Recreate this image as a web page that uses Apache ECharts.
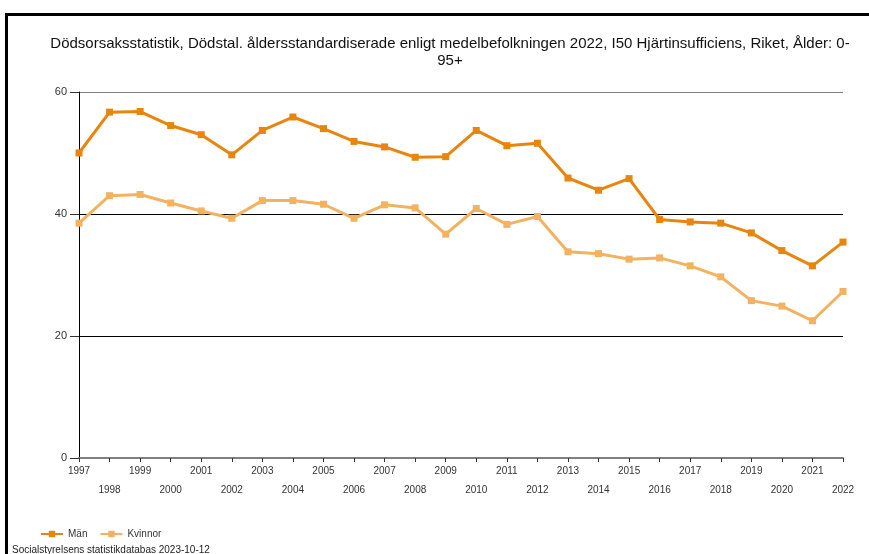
<!DOCTYPE html>
<html>
<head>
<meta charset="utf-8">
<script src="https://cdn.jsdelivr.net/npm/echarts@6/dist/echarts.min.js"></script>
<style>
  html, body { margin: 0; padding: 0; background: #fff; }
  #frame {
    position: absolute; left: 5px; top: 13px; width: 900px; height: 600px;
    border-top: 3px solid #000; border-left: 3px solid #000;
  }
  #main { width: 869px; height: 554px; position: absolute; left: 0; top: 0; }
</style>
</head>
<body>
<div id="frame"></div>
<div id="main"></div>
<script>
const years = ['1997', '1998', '1999', '2000', '2001', '2002', '2003', '2004', '2005', '2006',
  '2007', '2008', '2009', '2010', '2011', '2012', '2013', '2014', '2015', '2016',
  '2017', '2018', '2019', '2020', '2021', '2022']
// Män
const man = [50.0, 56.7, 56.8, 54.5, 53.0, 49.7, 53.7, 55.9, 54.0, 51.9,
  51.0, 49.3, 49.4, 53.7, 51.2, 51.6, 45.9, 43.9, 45.8, 39.1,
  38.7, 38.5, 36.9, 34.0, 31.5, 35.4]
// Kvinnor
const kvinnor = [38.5, 43.0, 43.2, 41.8, 40.5, 39.3, 42.2, 42.2, 41.6, 39.3,
  41.5, 41.0, 36.7, 40.9, 38.3, 39.6, 33.8, 33.5, 32.6, 32.8,
  31.5, 29.7, 25.8, 24.9, 22.5, 27.3]
const yTicks = [0, 20, 40, 60]

const chart = echarts.init(document.getElementById('main'), null, { renderer: 'canvas' })
const font = 'Liberation Sans, Arial, sans-serif'

const options = {
  animation: false,
  textStyle: { fontFamily: font },
  title: {
    text: 'Dödsorsaksstatistik, Dödstal. åldersstandardiserade enligt medelbefolkningen 2022, I50 Hjärtinsufficiens, Riket, Ålder: 0-\n95+',
    left: 445,
    top: 30,
    textAlign: 'center',
    textStyle: { fontSize: 15, fontWeight: 'normal', color: '#111', lineHeight: 17, fontFamily: font }
  },
  legend: {
    left: 35,
    top: 524,
    itemWidth: 22,
    itemHeight: 8,
    itemGap: 12,
    textStyle: { fontSize: 10, color: '#333', fontFamily: font },
    data: ['Män', 'Kvinnor']
  },
  graphic: [{
    type: 'text',
    left: 12,
    top: 545,
    style: { text: 'Socialstyrelsens statistikdatabas 2023-10-12', fontSize: 10, fill: '#222', fontFamily: font }
  }],
  grid: { left: 79, right: 26, top: 92, bottom: 96, containLabel: false },
  xAxis: {
    type: 'category',
    boundaryGap: false,
    data: years,
    axisLine: { lineStyle: { color: '#808080', width: 2 } },
    axisTick: { show: true, alignWithLabel: true, length: 4, interval: 0, lineStyle: { color: '#333' } },
    axisLabel: {
      interval: 0,
      color: '#333',
      fontSize: 10,
      margin: 4,
      lineHeight: 19,
      verticalAlign: 'top',
      formatter: (v, i) => (i % 2 === 1 ? '\n' + v : v)
    }
  },
  yAxis: {
    type: 'value',
    min: yTicks[0],
    max: yTicks[yTicks.length - 1],
    interval: 20,
    axisLine: { show: true, lineStyle: { color: '#000', width: 1 } },
    axisTick: { show: true, length: 9, lineStyle: { color: '#333' } },
    axisLabel: { color: '#333', fontSize: 11, margin: 12 },
    splitLine: { show: true, lineStyle: { color: ['#808080', '#000', '#000', '#808080'], width: 1 } }
  },
  series: [
    {
      name: 'Män',
      type: 'line',
      data: man,
      symbol: 'rect',
      symbolSize: 7,
      lineStyle: { color: '#e8850c', width: 3 },
      itemStyle: { color: '#e8850c' }
    },
    {
      name: 'Kvinnor',
      type: 'line',
      data: kvinnor,
      symbol: 'rect',
      symbolSize: 7,
      lineStyle: { color: '#f2b260', width: 3 },
      itemStyle: { color: '#f2b260' }
    }
  ]
}
chart.setOption(options)
</script>
</body>
</html>
